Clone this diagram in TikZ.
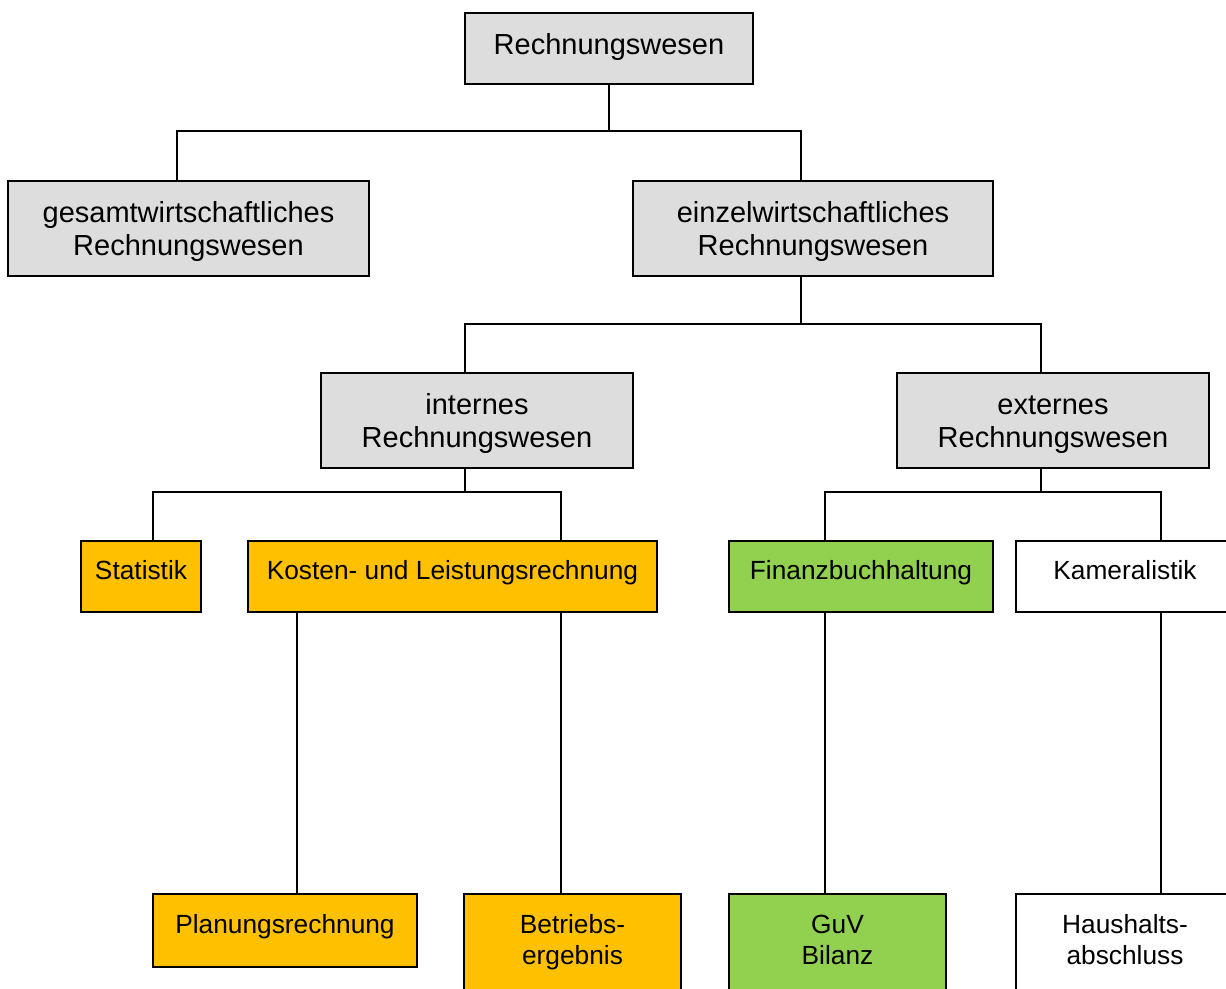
\documentclass[tikz,border=0pt]{standalone}
\usepackage{fontspec}
\setmainfont{Liberation Sans}
\definecolor{boxgray}{HTML}{DDDDDD}
\definecolor{boxorange}{HTML}{FFC000}
\definecolor{boxgreen}{HTML}{92D050}
\begin{document}
\begin{tikzpicture}[x=1pt,y=-1pt,
  box/.style={draw=black, line width=1.6pt, inner sep=0pt, align=center},
  big/.style={box, fill=boxgray, font=\fontsize{29}{33}\selectfont},
  bigone/.style={big, text height=21pt, text depth=9pt},
  bigtwo/.style={big, text height=60pt, text depth=6.2pt},
  small/.style={box, font=\fontsize{26.3}{31}\selectfont},
  smallone/.style={small, text height=15pt, text depth=9.2pt},
  smalltwo/.style={small, text height=52pt, text depth=7.2pt},
  obox/.style={fill=boxorange},
  gbox/.style={fill=boxgreen},
  wbox/.style={fill=white},
  conn/.style={draw=black, line width=1.6pt}]
\clip (0,0) rectangle (1226,988);
\fill[white] (0,0) rectangle (1226,988);
% level 0
\node[bigone, minimum width=288pt, minimum height=71pt] (rw) at (609,48.5) {Rechnungswesen};
% level 1
\node[bigtwo, minimum width=361pt, minimum height=95pt] (ges) at (188.5,228.5) {gesamtwirtschaftliches\\Rechnungswesen};
\node[bigtwo, minimum width=360pt, minimum height=95pt] (ein) at (813,228.5) {einzelwirtschaftliches\\Rechnungswesen};
% level 2
\node[bigtwo, minimum width=312pt, minimum height=95pt] (int) at (477,420.5) {internes\\Rechnungswesen};
\node[bigtwo, minimum width=312pt, minimum height=95pt] (ext) at (1053,420.5) {externes\\Rechnungswesen};
% level 3
\node[smallone, obox, minimum width=120pt, minimum height=71pt] (stat) at (141,576.5) {Statistik};
\node[smallone, obox, minimum width=409pt, minimum height=71pt] (kost) at (452.5,576.5) {Kosten- und Leistungsrechnung};
\node[smallone, gbox, minimum width=264pt, minimum height=71pt] (fin) at (861,576.5) {Finanzbuchhaltung};
\node[smallone, wbox, minimum width=218pt, minimum height=71pt] (kam) at (1125,576.5) {Kameralistik};
% level 4
\node[smallone, obox, minimum width=264pt, minimum height=73pt] (plan) at (285,930.5) {Planungsrechnung};
\node[smalltwo, obox, minimum width=217pt, minimum height=96pt] (bet) at (572.5,942) {Betriebs-\\ergebnis};
\node[smalltwo, gbox, minimum width=217pt, minimum height=96pt] (guv) at (837.5,942) {GuV\\Bilanz};
\node[smalltwo, wbox, minimum width=218pt, minimum height=96pt] (hh) at (1125,942) {Haushalts-\\abschluss};
% junction coordinates
\coordinate (a1) at (177,131);
\coordinate (a2) at (801,131);
\coordinate (b1) at (465,324);
\coordinate (b2) at (1041,324);
\coordinate (c1) at (153,492);
\coordinate (c2) at (561,492);
\coordinate (d1) at (825,492);
\coordinate (d2) at (1161,492);
\coordinate (k1) at (297,612);
% connectors
\draw[conn] (rw.south) -- (rw.south |- a1);
\draw[conn] (a1 |- ges.north) -- (a1) -- (a2) -- (a2 |- ein.north);
\draw[conn] (a2 |- ein.south) -- (a2 |- b1);
\draw[conn] (b1 |- int.north) -- (b1) -- (b2) -- (b2 |- ext.north);
\draw[conn] (b1 |- int.south) -- (b1 |- c1);
\draw[conn] (c1 |- stat.north) -- (c1) -- (c2) -- (c2 |- kost.north);
\draw[conn] (b2 |- ext.south) -- (b2 |- d1);
\draw[conn] (d1 |- fin.north) -- (d1) -- (d2) -- (d2 |- kam.north);
\draw[conn] (k1 |- kost.south) -- (k1 |- plan.north);
\draw[conn] (c2 |- kost.south) -- (c2 |- bet.north);
\draw[conn] (d1 |- fin.south) -- (d1 |- guv.north);
\draw[conn] (d2 |- kam.south) -- (d2 |- hh.north);
\end{tikzpicture}
\end{document}
